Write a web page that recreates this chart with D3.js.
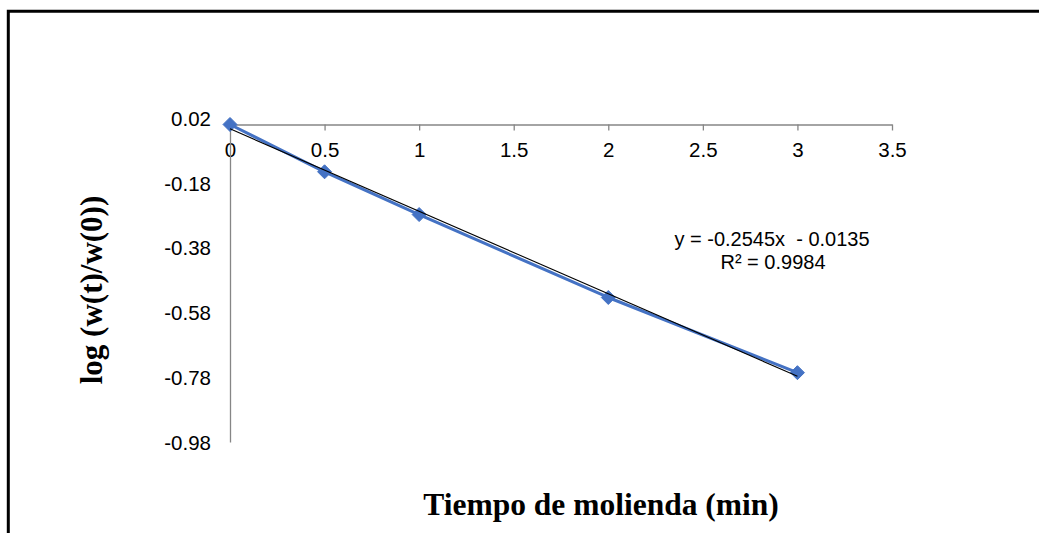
<!DOCTYPE html>
<html>
<head>
<meta charset="utf-8">
<script src="https://cdn.jsdelivr.net/npm/d3@7"></script>
<style>
  html, body { margin: 0; padding: 0; background: #ffffff; }
  svg { display: block; }
</style>
</head>
<body>
<script>
// Grinding time (min) and log of retained mass ratio
const tiempo = [0, 0.5, 1, 2, 3];
const logRatio = [0, -0.146, -0.278, -0.534, -0.766];

// Axis ticks
const xTicks = [0, 0.5, 1, 1.5, 2, 2.5, 3, 3.5];
const yTicks = [0.02, -0.18, -0.38, -0.58, -0.78, -0.98];

// Linear trendline reported on the chart
const slope = -0.2545;
const intercept = -0.0135;
const r2 = 0.9984;

const W = 1039, H = 533;
const svg = d3.select("body").append("svg").attr("width", W).attr("height", H);

const x = d3.scaleLinear().domain([0, 3.5]).range([230, 892]);
const y = d3.scaleLinear().domain([-0.98, 0.02]).range([442, 118]);

// soft shadow over the chart frame
const defs = svg.append("defs");
defs.append("filter").attr("id", "soft").attr("x", "-10%").attr("y", "-200%")
  .attr("width", "120%").attr("height", "500%")
  .append("feGaussianBlur").attr("stdDeviation", 2.5);
svg.append("line").attr("x1", 4).attr("x2", W + 10).attr("y1", 7).attr("y2", 7)
  .attr("stroke", "#d8d8d8").attr("stroke-width", 3).attr("filter", "url(#soft)");

// chart frame (runs off the right and bottom edges)
svg.append("path")
  .attr("d", `M8.3,${H + 5} L8.3,11.3 L${W + 5},11.3`)
  .attr("fill", "none").attr("stroke", "#000").attr("stroke-width", 3);

const axisColor = "#868686";
const tickFont = "'Liberation Sans', Arial, sans-serif";

// horizontal axis crossing at y = 0
const xAxis = d3.axisBottom(x).tickValues(xTicks).tickSize(6).tickSizeOuter(0)
  .tickFormat(d => String(d));
const gx = svg.append("g").attr("transform", `translate(0,${y(0)})`).call(xAxis);
gx.select(".domain").attr("stroke", axisColor).attr("stroke-width", 1.3);
gx.selectAll(".tick line").attr("stroke", axisColor).attr("stroke-width", 1.3);
gx.selectAll(".tick text")
  .attr("y", 157 - y(0)).attr("dy", null)
  .attr("fill", "#000").style("font-family", tickFont).style("font-size", "20.5px");

// vertical axis at x = 0, labels without tick marks
const yAxis = d3.axisLeft(y).tickValues(yTicks).tickSize(0).tickPadding(19)
  .tickFormat(d => String(d));
const gy = svg.append("g").attr("transform", `translate(${x(0)},0)`).call(yAxis);
gy.select(".domain").attr("stroke", axisColor).attr("stroke-width", 1.3);
gy.selectAll(".tick text")
  .attr("dy", "0.36em")
  .attr("fill", "#000").style("font-family", tickFont).style("font-size", "20.5px");

// data series
const pts = tiempo.map((t, i) => [t, logRatio[i]]);
svg.append("path")
  .datum(pts)
  .attr("fill", "none")
  .attr("stroke", "#4472C4")
  .attr("stroke-width", 3)
  .attr("stroke-linejoin", "round")
  .attr("d", d3.line().x(d => x(d[0])).y(d => y(d[1])));

svg.selectAll(".marker").data(pts).enter().append("path")
  .attr("class", "marker")
  .attr("transform", d => `translate(${x(d[0])},${y(d[1])})`)
  .attr("d", "M0,-7 L7,0 L0,7 L-7,0 Z")
  .attr("fill", "#4472C4").attr("stroke", "#4472C4").attr("stroke-width", 1);

// trendline over the data range
const tx = d3.extent(tiempo);
svg.append("line")
  .attr("x1", x(tx[0])).attr("y1", y(slope * tx[0] + intercept))
  .attr("x2", x(tx[1])).attr("y2", y(slope * tx[1] + intercept))
  .attr("stroke", "#000").attr("stroke-width", 1.1);

// trendline equation
const eq = svg.append("text")
  .attr("text-anchor", "middle")
  .style("font-family", tickFont).style("font-size", "20px").attr("fill", "#000");
eq.append("tspan").attr("x", 772).attr("y", 246)
  .attr("xml:space", "preserve")
  .text(`y = ${slope}x  - ${Math.abs(intercept)}`);
eq.append("tspan").attr("x", 773).attr("y", 269)
  .text(`R² = ${r2}`);

// axis titles
const titleFont = "'Liberation Serif', 'Times New Roman', serif";
svg.append("text")
  .attr("x", 601).attr("y", 515).attr("text-anchor", "middle")
  .style("font-family", titleFont).style("font-weight", "bold").style("font-size", "31.5px")
  .text("Tiempo de molienda (min)");

svg.append("text")
  .attr("transform", "translate(102,290) rotate(-90)")
  .attr("text-anchor", "middle")
  .style("font-family", titleFont).style("font-weight", "bold").style("font-size", "31px")
  .text("log (w(t)/w(0))");
</script>
</body>
</html>
